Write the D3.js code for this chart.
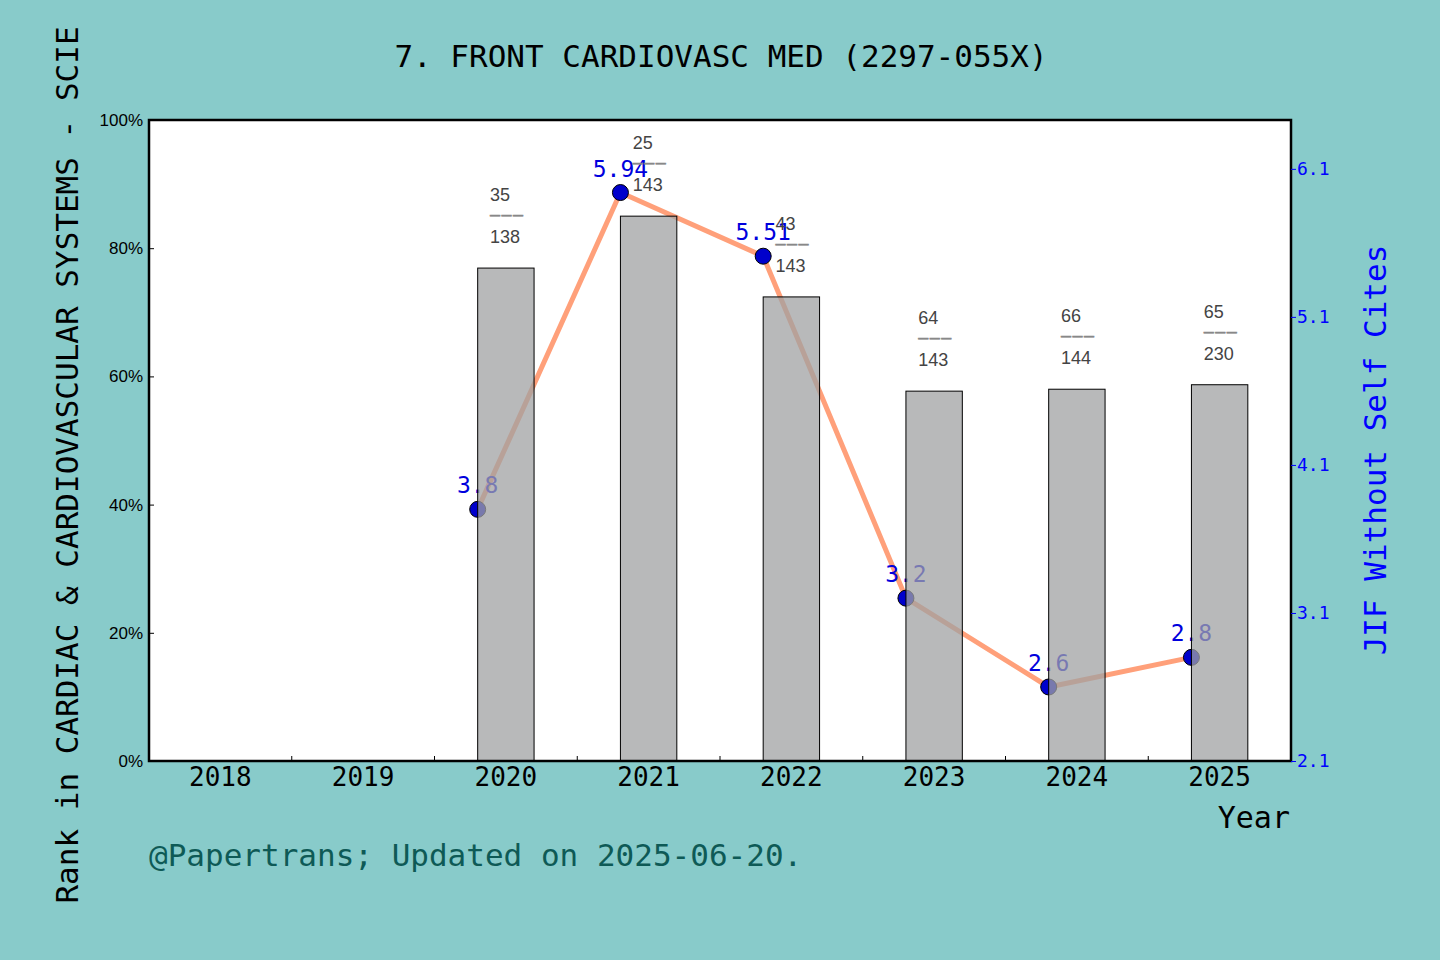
<!DOCTYPE html>
<html>
<head>
<meta charset="utf-8">
<script src="https://cdn.jsdelivr.net/npm/d3@7"></script>
<style>
  body { margin: 0; background: #88cbca; }
  svg { display: block; }
</style>
</head>
<body>
<svg id="chart" width="1440" height="960"></svg>
<script>
const years = ['2018', '2019', '2020', '2021', '2022', '2023', '2024', '2025'];
const rankYears = ['2020', '2021', '2022', '2023', '2024', '2025'];
const rankPct = [76.9, 85.0, 72.4, 57.7, 58.0, 58.7];
const rankNum = [35, 25, 43, 64, 66, 65];
const rankTotal = [138, 143, 143, 143, 144, 230];
const jifValues = [3.8, 5.94, 5.51, 3.2, 2.6, 2.8];
const leftTicks = [0, 20, 40, 60, 80, 100];
const rightTicks = [2.1, 3.1, 4.1, 5.1, 6.1];

const mono = '"DejaVu Sans Mono", monospace';
const margin = { left: 149, right: 1291, top: 120, bottom: 761 };

const svg = d3.select('#chart');

svg.append('rect')
  .attr('width', 1440)
  .attr('height', 960)
  .attr('fill', '#88cbca');

const x = d3.scaleBand()
  .domain(years)
  .range([margin.left, margin.right])
  .padding(0);

const yLeft = d3.scaleLinear()
  .domain([0, 100])
  .range([margin.bottom, margin.top]);

const yRight = d3.scaleLinear()
  .domain([2.1, 6.43])
  .range([margin.bottom, margin.top]);

const barWidth = x.bandwidth() * 0.395;
const barLeft = (yr) => x(yr) + x.bandwidth() / 2 - barWidth / 2;

// plot area
svg.append('rect')
  .attr('x', margin.left)
  .attr('y', margin.top)
  .attr('width', margin.right - margin.left)
  .attr('height', margin.bottom - margin.top)
  .attr('fill', 'white');

// JIF line + points (bars are drawn over them, semi transparent)
const pts = rankYears.map((yr, i) => ({ x: barLeft(yr), y: yRight(jifValues[i]), v: jifValues[i] }));

svg.append('path')
  .datum(pts)
  .attr('d', d3.line().x(d => d.x).y(d => d.y))
  .attr('fill', 'none')
  .attr('stroke', '#ffa07a')
  .attr('stroke-width', 5);

svg.selectAll('circle.jif')
  .data(pts)
  .join('circle')
  .attr('class', 'jif')
  .attr('cx', d => d.x)
  .attr('cy', d => d.y)
  .attr('r', 8)
  .attr('fill', '#0000cc')
  .attr('stroke', 'black')
  .attr('stroke-width', 1);

svg.selectAll('text.jif')
  .data(pts)
  .join('text')
  .attr('class', 'jif')
  .attr('x', d => d.x)
  .attr('y', d => d.y - 16)
  .attr('text-anchor', 'middle')
  .attr('font-family', mono)
  .attr('font-size', 23)
  .attr('fill', '#0000dd')
  .text(d => d.v);

// bars
svg.selectAll('rect.bar')
  .data(rankYears)
  .join('rect')
  .attr('class', 'bar')
  .attr('x', d => barLeft(d))
  .attr('y', (d, i) => yLeft(rankPct[i]))
  .attr('width', barWidth)
  .attr('height', (d, i) => margin.bottom - yLeft(rankPct[i]))
  .attr('fill', 'rgb(160,161,163)')
  .attr('fill-opacity', 0.75)
  .attr('stroke', 'black')
  .attr('stroke-width', 1);

// rank labels
rankYears.forEach((yr, i) => {
  const cx = x(yr) + x.bandwidth() / 2 - 16;
  const top = yLeft(rankPct[i]);
  const g = svg.append('g')
    .attr('font-family', '"Liberation Sans", Arial, sans-serif')
    .attr('font-size', 18);
  g.append('text').attr('x', cx).attr('y', top - 67).attr('fill', '#444').text(rankNum[i]);
  g.append('text').attr('x', cx).attr('y', top - 48)
    .attr('letter-spacing', 1.5)
    .attr('stroke', '#888').attr('stroke-width', 0.6)
    .attr('fill', '#888').text('–––');
  g.append('text').attr('x', cx).attr('y', top - 25).attr('fill', '#444').text(rankTotal[i]);
});

// frame
svg.append('rect')
  .attr('x', margin.left)
  .attr('y', margin.top)
  .attr('width', margin.right - margin.left)
  .attr('height', margin.bottom - margin.top)
  .attr('fill', 'none')
  .attr('stroke', 'black')
  .attr('stroke-width', 2.5);

// x axis
const xAxis = svg.append('g')
  .attr('transform', `translate(0,${margin.bottom})`)
  .call(d3.axisBottom(x).tickSize(0).tickPadding(2));
xAxis.select('.domain').remove();
xAxis.selectAll('text')
  .attr('font-family', mono)
  .attr('font-size', 26)
  .attr('fill', 'black')
  .attr('dy', '0.9em');

svg.selectAll('line.xminor')
  .data(years.slice(1))
  .join('line')
  .attr('class', 'xminor')
  .attr('x1', d => x(d))
  .attr('x2', d => x(d))
  .attr('y1', margin.bottom)
  .attr('y2', margin.bottom - 5)
  .attr('stroke', 'black')
  .attr('stroke-width', 1);

// left axis
const leftAxis = svg.append('g')
  .attr('transform', `translate(${margin.left},0)`)
  .call(d3.axisLeft(yLeft).tickValues(leftTicks).tickSize(-5).tickPadding(6).tickFormat(d => d + '%'));
leftAxis.select('.domain').remove();
leftAxis.selectAll('text')
  .attr('font-family', '"Liberation Sans", Arial, sans-serif')
  .attr('font-size', 17)
  .attr('fill', 'black');

// right axis
const rightAxis = svg.append('g')
  .attr('transform', `translate(${margin.right},0)`)
  .call(d3.axisRight(yRight).tickValues(rightTicks).tickSize(5).tickPadding(1).tickFormat(d3.format('.1f')));
rightAxis.select('.domain').remove();
rightAxis.selectAll('line').attr('stroke', '#0000ff');
rightAxis.selectAll('text')
  .attr('font-family', mono)
  .attr('font-size', 18)
  .attr('fill', '#0000ff');

// titles
svg.append('text')
  .attr('x', 721)
  .attr('y', 67)
  .attr('text-anchor', 'middle')
  .attr('font-family', mono)
  .attr('font-size', 31)
  .attr('fill', 'black')
  .text('7. FRONT CARDIOVASC MED (2297-055X)');

svg.append('text')
  .attr('transform', 'translate(78,465) rotate(-90)')
  .attr('text-anchor', 'middle')
  .attr('font-family', mono)
  .attr('font-size', 31)
  .attr('fill', 'black')
  .text('Rank in CARDIAC & CARDIOVASCULAR SYSTEMS - SCIE');

svg.append('text')
  .attr('transform', 'translate(1386,450) rotate(-90)')
  .attr('text-anchor', 'middle')
  .attr('font-family', mono)
  .attr('font-size', 31)
  .attr('fill', '#0000ff')
  .text('JIF Without Self Cites');

svg.append('text')
  .attr('x', 1290)
  .attr('y', 828)
  .attr('text-anchor', 'end')
  .attr('font-family', mono)
  .attr('font-size', 30)
  .attr('fill', 'black')
  .text('Year');

svg.append('text')
  .attr('x', 149)
  .attr('y', 866)
  .attr('font-family', mono)
  .attr('font-size', 31)
  .attr('fill', '#0e5a56')
  .text('@Papertrans; Updated on 2025-06-20.');
</script>
</body>
</html>
